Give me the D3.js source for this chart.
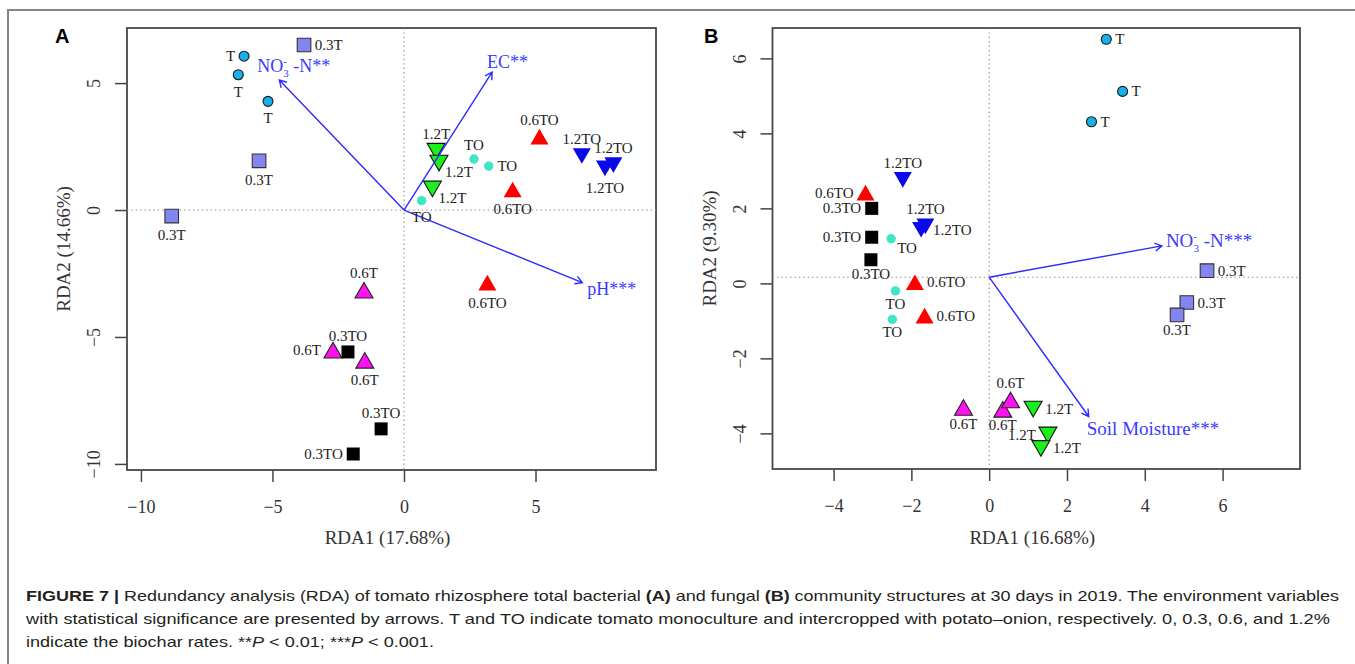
<!DOCTYPE html>
<html>
<head>
<meta charset="utf-8">
<script src="https://cdn.jsdelivr.net/npm/d3@7"></script>
<style>
body { margin: 0; background: #fff; }
</style>
</head>
<body>
<div id="fig"></div>
<script>
// ---- panel A (bacteria) ----
var groupsA = ["0.3T", "T", "T", "T", "0.3T", "0.3T",
	"1.2T", "1.2T", "1.2T", "TO", "TO", "TO",
	"0.6TO", "0.6TO", "0.6TO", "1.2TO", "1.2TO", "1.2TO",
	"0.6T", "0.6T", "0.3TO", "0.6T", "0.3TO", "0.3TO"];
var xA = [-3.80, -6.08, -6.30, -5.17, -5.51, -8.83,
	1.22, 1.33, 1.08, 2.66, 3.22, 0.67,
	5.15, 4.13, 3.17, 6.76, 7.64, 7.96,
	-1.52, -2.70, -2.13, -1.49, -0.87, -1.93];
var yA = [6.50, 6.06, 5.33, 4.28, 1.94, -0.24,
	2.32, 1.85, 0.83, 2.01, 1.73, 0.37,
	2.89, 0.81, -2.86, 2.13, 1.64, 1.77,
	-3.16, -5.52, -5.59, -5.92, -8.62, -9.61];
// label side: 1 below, 2 left, 3 above, 4 right, 5 lower right
var posA = [4, 2, 1, 1, 1, 1,
	3, 5, 5, 3, 4, 1,
	3, 1, 1, 3, 1, 3,
	3, 2, 3, 1, 3, 2];
var envA = ["NO3-N**", "EC**", "pH***"];
var envXA = [-4.74, 3.35, 6.78];
var envYA = [5.12, 5.43, -2.86];
var ticksXA = [-10, -5, 0, 5];
var ticksYA = [-10, -5, 0, 5];

// ---- panel B (fungi) ----
var groupsB = ["T", "T", "T", "1.2TO", "0.6TO", "0.3TO",
	"1.2TO", "1.2TO", "0.3TO", "TO", "0.3TO", "0.6TO",
	"TO", "0.6TO", "TO", "0.6T", "0.6T", "0.6T",
	"1.2T", "1.2T", "1.2T", "0.3T", "0.3T", "0.3T"];
var xB = [3.01, 3.43, 2.63, -2.22, -3.18, -3.02,
	-1.64, -1.75, -3.02, -2.52, -3.04, -1.91,
	-2.41, -1.66, -2.49, -0.66, 0.35, 0.55,
	1.13, 1.51, 1.33, 5.60, 5.08, 4.83];
var yB = [6.51, 5.12, 4.31, 2.76, 2.42, 2.00,
	1.52, 1.43, 1.23, 1.19, 0.63, 0.03,
	-0.20, -0.86, -0.96, -3.31, -3.36, -3.11,
	-3.35, -4.04, -4.40, 0.34, -0.51, -0.84];
var posB = [4, 4, 4, 3, 2, 2,
	3, 4, 2, 5, 1, 4,
	1, 4, 1, 1, 1, 3,
	4, 2, 4, 4, 4, 1];
var envB = ["NO3-N***", "Soil Moisture***"];
var envXB = [4.44, 2.56];
var envYB = [1.00, -3.55];
var ticksXB = [-4, -2, 0, 2, 4, 6];
var ticksYB = [-4, -2, 0, 2, 4, 6];

var SERIF = "'Liberation Serif', 'Times New Roman', serif";
var SANS = "'Liberation Sans', Arial, Helvetica, sans-serif";
var ARROW = "#2b2bff";

var markers = {
	"T":     { shape: "circle", r: 5, fill: "#17b0e8", stroke: "#1a1a1a" },
	"TO":    { shape: "circle", r: 4.7, fill: "#3fe5c4", stroke: "none" },
	"0.3T":  { shape: "square", r: 6.8, fill: "#8385f0", stroke: "#333" },
	"0.3TO": { shape: "square", r: 6.5, fill: "#000", stroke: "none" },
	"0.6T":  { shape: "up", r: 8, fill: "#ff12f2", stroke: "#222" },
	"0.6TO": { shape: "up", r: 8, fill: "#ff0000", stroke: "none" },
	"1.2T":  { shape: "down", r: 8, fill: "#1cf01c", stroke: "#111" },
	"1.2TO": { shape: "down", r: 8, fill: "#0a0ae8", stroke: "none" }
};

var svg = d3.select("#fig").append("svg")
	.attr("width", 1355)
	.attr("height", 664);

// figure frame (top and left only)
svg.append("path")
	.attr("d", "M8,664V10H1355")
	.attr("fill", "none")
	.attr("stroke", "#858585")
	.attr("stroke-width", 2);

function fmt(d) {
	return d < 0 ? "\u2212" + Math.abs(d) : "" + d;
}

function markerPath(m) {
	var s, h;
	if (m.shape == "circle") return d3.symbol(d3.symbolCircle, Math.PI * m.r * m.r)();
	if (m.shape == "square") return d3.symbol(d3.symbolSquare, 4 * m.r * m.r)();
	s = m.r * 2.25;
	h = s * Math.sqrt(3) / 2;
	if (m.shape == "up")
		return "M0," + (-h / 2) + "L" + (s / 2) + "," + (h / 2) + "L" + (-s / 2) + "," + (h / 2) + "Z";
	return "M0," + (h / 2) + "L" + (s / 2) + "," + (-h / 2) + "L" + (-s / 2) + "," + (-h / 2) + "Z";
}

function rdaPanel(cfg) {
	this.cfg = cfg;
	this.x = d3.scaleLinear().domain(cfg.xDomain).range([cfg.left, cfg.right]);
	this.y = d3.scaleLinear().domain(cfg.yDomain).range([cfg.bottom, cfg.top]);
	this.g = svg.append("g");
	this.draw();
}

rdaPanel.prototype = {
	draw: function() {
		this.drawAxes();
		this.drawGuides();
		this.drawPoints();
		this.drawArrows();
		this.drawLabels();
	},
	drawAxes: function() {
		var c = this.cfg, g = this.g;
		var gx = g.append("g")
			.attr("transform", "translate(0," + c.bottom + ")")
			.call(d3.axisBottom(this.x).tickValues(c.xTicks).tickSize(12).tickPadding(18).tickFormat(fmt));
		var gy = g.append("g")
			.attr("transform", "translate(" + c.left + ",0)")
			.call(d3.axisLeft(this.y).tickValues(c.yTicks).tickSize(12).tickFormat(fmt));
		[gx, gy].forEach(function(a) {
			a.select(".domain").remove();
			a.attr("font-family", SERIF).attr("font-size", 18).attr("color", "#333");
			a.selectAll("line").attr("stroke", "#444").attr("stroke-width", 1.5);
		});
		gy.selectAll("text")
			.attr("transform", "rotate(-90)")
			.attr("x", 0)
			.attr("y", -27)
			.attr("dy", 0)
			.attr("text-anchor", "middle");

		g.append("rect")
			.attr("x", c.left).attr("y", c.top)
			.attr("width", c.right - c.left).attr("height", c.bottom - c.top)
			.attr("fill", "none").attr("stroke", "#484848").attr("stroke-width", 1.8);

		g.append("text")
			.attr("x", (c.left + c.right) / 2 - 4).attr("y", 544)
			.attr("text-anchor", "middle")
			.style("font-family", SERIF).style("font-size", "19px").style("fill", "#333")
			.text(c.xTitle);
		g.append("text")
			.attr("transform", "translate(" + (c.left - 57) + "," + ((c.top + c.bottom) / 2) + ") rotate(-90)")
			.attr("text-anchor", "middle")
			.style("font-family", SERIF).style("font-size", "19px").style("fill", "#333")
			.text(c.yTitle);
		g.append("text")
			.attr("x", c.letterX).attr("y", 43)
			.style("font-family", SANS).style("font-weight", "bold").style("font-size", "20px")
			.text(c.letter);
	},
	drawGuides: function() {
		var c = this.cfg, x = this.x, y = this.y;
		var dots = { stroke: "#8a8a8a", "stroke-width": 1.1, "stroke-dasharray": "1.4,3" };
		var v = this.g.append("line")
			.attr("x1", x(0)).attr("x2", x(0)).attr("y1", c.top).attr("y2", c.bottom);
		var h = this.g.append("line")
			.attr("x1", c.left).attr("x2", c.right).attr("y1", y(c.origin[1])).attr("y2", y(c.origin[1]));
		[v, h].forEach(function(l) {
			for (var k in dots) l.attr(k, dots[k]);
		});
	},
	drawPoints: function() {
		var c = this.cfg, x = this.x, y = this.y;
		this.g.selectAll("path.pt")
			.data(c.groups)
			.enter()
			.append("path")
			.attr("class", "pt")
			.attr("d", function(d) { return markerPath(markers[d]); })
			.attr("transform", function(d, i) {
				return "translate(" + x(c.xs[i]) + "," + y(c.ys[i]) + ")";
			})
			.attr("fill", function(d) { return markers[d].fill; })
			.attr("stroke", function(d) { return markers[d].stroke; })
			.attr("stroke-width", 1.1);
	},
	drawArrows: function() {
		var c = this.cfg, x = this.x, y = this.y, g = this.g;
		var ox = x(c.origin[0]), oy = y(c.origin[1]);
		c.env.forEach(function(name, i) {
			var tx = x(c.envX[i]), ty = y(c.envY[i]);
			var a = Math.atan2(ty - oy, tx - ox), L = 8, w = Math.PI / 6;
			var path = d3.path();
			path.moveTo(ox, oy);
			path.lineTo(tx, ty);
			path.moveTo(tx - L * Math.cos(a - w), ty - L * Math.sin(a - w));
			path.lineTo(tx, ty);
			path.lineTo(tx - L * Math.cos(a + w), ty - L * Math.sin(a + w));
			g.append("path")
				.attr("d", path.toString())
				.attr("fill", "none")
				.attr("stroke", ARROW)
				.attr("stroke-width", 1.4);

			var t = g.append("text")
				.attr("x", tx + c.envOff[i][0])
				.attr("y", ty + c.envOff[i][1])
				.style("font-family", SERIF)
				.style("font-size", c.envSize + "px")
				.style("fill", "#3a3aff");
			if (name.indexOf("NO3") == 0) {
				var sm = Math.round(c.envSize * 0.6);
				t.append("tspan").text("NO");
				t.append("tspan").attr("dy", -7).style("font-size", sm + "px").text("-");
				t.append("tspan").attr("dx", -sm * 0.33).attr("dy", 12).style("font-size", sm + "px").text("3");
				t.append("tspan").attr("dy", -5).text(" -" + name.slice(4));
			} else {
				t.text(name);
			}
		});
	},
	drawLabels: function() {
		var c = this.cfg, x = this.x, y = this.y;
		this.g.selectAll("text.lab")
			.data(c.groups)
			.enter()
			.append("text")
			.attr("class", "lab")
			.text(function(d) { return d; })
			.each(function(d, i) {
				var px = x(c.xs[i]), py = y(c.ys[i]), r = markers[d].r;
				var p = c.pos[i], ax = px, ay = py, anchor = "middle";
				if (p == 1) { ay = py + r + c.belowGap; }
				else if (p == 3) { ay = py - r - 4; }
				else if (p == 2) { ax = px - r - 4; ay = py + 5; anchor = "end"; }
				else if (p == 4) { ax = px + r + 4; ay = py + 5; anchor = "start"; }
				else { ax = px + 6; ay = py + 14; anchor = "start"; }
				d3.select(this)
					.attr("x", ax).attr("y", ay)
					.attr("text-anchor", anchor);
			})
			.style("font-family", SERIF)
			.style("font-size", "15px")
			.style("fill", "#222");
	}
};

new rdaPanel({
	groups: groupsA, xs: xA, ys: yA, pos: posA,
	env: envA, envX: envXA, envY: envYA,
	envOff: [[-22, -8], [-5, -4], [5, 12]], envSize: 18,
	origin: [0, 0], belowGap: 17,
	xTicks: ticksXA, yTicks: ticksYA,
	xDomain: [-10.53, 9.58], yDomain: [-10.24, 7.17],
	left: 127, right: 656, top: 28, bottom: 470,
	xTitle: "RDA1 (17.68%)", yTitle: "RDA2 (14.66%)",
	letter: "A", letterX: 55
});

new rdaPanel({
	groups: groupsB, xs: xB, ys: yB, pos: posB,
	env: envB, envX: envXB, envY: envYB,
	envOff: [[4, 1], [-2, 18]], envSize: 19,
	origin: [0, 0.165], belowGap: 13,
	xTicks: ticksXB, yTicks: ticksYB,
	xDomain: [-5.57, 7.99], yDomain: [-4.95, 6.81],
	left: 772.5, right: 1300, top: 28, bottom: 469,
	xTitle: "RDA1 (16.68%)", yTitle: "RDA2 (9.30%)",
	letter: "B", letterX: 704
});

// ---- caption ----
var caption = [
	[["FIGURE 7 |", "b"], [" Redundancy analysis (RDA) of tomato rhizosphere total bacterial ", ""], ["(A)", "b"],
		[" and fungal ", ""], ["(B)", "b"], [" community structures at 30 days in 2019. The environment variables", ""]],
	[["with statistical significance are presented by arrows. T and TO indicate tomato monoculture and intercropped with potato\u2013onion, respectively. 0, 0.3, 0.6, and 1.2%", ""]],
	[["indicate the biochar rates. **", ""], ["P", "i"], [" < 0.01; ***", ""], ["P", "i"], [" < 0.001.", ""]]
];
var capY = [601, 624, 647];
var capW = [1314, 1305, null];
var scales = [];
caption.forEach(function(line, li) {
	var t = svg.append("text")
		.attr("x", 0).attr("y", 0)
		.style("font-family", SANS)
		.style("font-size", "14px")
		.style("fill", "#231f20");
	line.forEach(function(seg) {
		t.append("tspan")
			.text(seg[0])
			.style("font-weight", seg[1] == "b" ? "bold" : "normal")
			.style("font-style", seg[1] == "i" ? "italic" : "normal");
	});
	var w = t.node().getComputedTextLength();
	var s = capW[li] ? capW[li] / w : d3.mean(scales);
	scales.push(s);
	t.attr("transform", "translate(26," + capY[li] + ") scale(" + s + ",1)");
});
</script>
</body>
</html>
